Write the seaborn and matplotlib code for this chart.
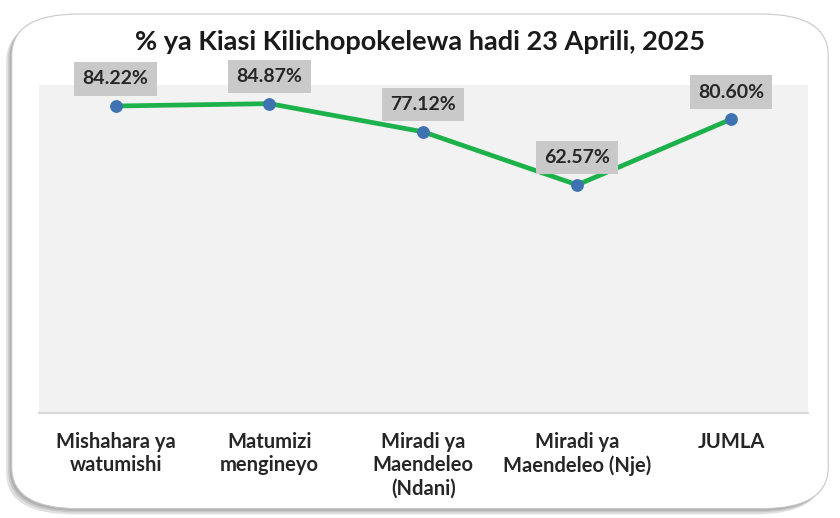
import matplotlib
matplotlib.use("Agg")
import matplotlib.pyplot as plt
import seaborn as sns
import pandas as pd
from matplotlib.patches import FancyBboxPatch

# data
categories = ["Mishahara ya\nwatumishi", "Matumizi\nmengineyo", "Miradi ya\nMaendeleo\n(Ndani)",
              "Miradi ya\nMaendeleo (Nje)", "JUMLA"]
percent = [84.22, 84.87, 77.12, 62.57, 80.60]
labels = ["84.22%", "84.87%", "77.12%", "62.57%", "80.60%"]
title = "% ya Kiasi Kilichopokelewa hadi 23 Aprili, 2025"

df = pd.DataFrame({"cat": categories, "pct": percent})
df["pos"] = range(len(df))

sns.set_style("white")
plt.rcParams["font.family"] = ["Lato", "DejaVu Sans"]

fig = plt.figure(figsize=(8.4, 5.18), dpi=100)
fig.patch.set_facecolor("white")

# rounded card with soft shadow (behind the axes)
for off, col in [(0.011, "#e0e0e0"), (0.007, "#c8c8c8"), (0.004, "#b0b0b0")]:
    fig.patches.append(FancyBboxPatch((0.014 - off * 0.6, 0.018 - off), 0.972, 0.955,
                                      boxstyle="round,pad=0,rounding_size=0.08",
                                      transform=fig.transFigure, facecolor=col,
                                      edgecolor="none", zorder=-3))
fig.patches.append(FancyBboxPatch((0.014, 0.018), 0.972, 0.955,
                                  boxstyle="round,pad=0,rounding_size=0.08",
                                  transform=fig.transFigure, facecolor="white",
                                  edgecolor="#c8c8c8", linewidth=0.8, zorder=-2))

ax = fig.add_axes([0.046, 0.203, 0.916, 0.633])
ax.set_facecolor("#f2f2f2")

sns.lineplot(data=df, x="pos", y="pct", ax=ax, color="#1db14b", linewidth=3.4, sort=False)
sns.scatterplot(data=df, x="pos", y="pct", ax=ax, color="#3f72b0", s=85,
                edgecolor="#3f72b0", linewidth=0, zorder=5)

for x, y, t in zip(df["pos"], df["pct"], labels):
    ax.annotate(t, (x, y), xytext=(0, 19.5), textcoords="offset points",
                ha="center", va="center", fontsize=14, fontweight="bold", color="#262626",
                bbox=dict(boxstyle="square,pad=0.42", facecolor="#c9c9c9", edgecolor="none"),
                annotation_clip=False, zorder=6)

ax.set_xlim(-0.5, 4.5)
ax.set_ylim(0, 90)
ax.set_yticks([])
ax.set_xticks(df["pos"])
ax.set_xticklabels(categories, fontsize=14.5, fontweight="bold", color="#262626",
                   linespacing=1.2, va="top")
ax.tick_params(axis="x", length=0, pad=14)
ax.set_xlabel("")
ax.set_ylabel("")
for s in ["top", "left", "right"]:
    ax.spines[s].set_visible(False)
ax.spines["bottom"].set_color("#d9d9d9")
ax.spines["bottom"].set_linewidth(1.5)

fig.text(0.5, 0.918, title, ha="center", va="center", fontsize=19.5,
         fontweight="bold", color="#1a1a1a")

fig.savefig("out.png", dpi=100, facecolor="white")
